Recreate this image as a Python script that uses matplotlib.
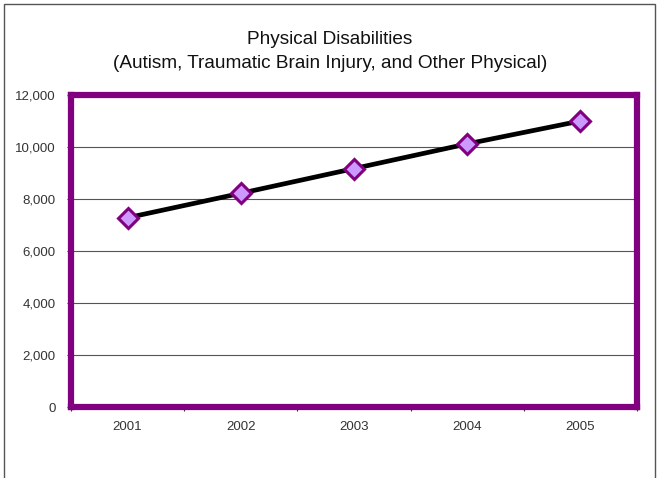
import matplotlib.pyplot as plt
from matplotlib.patches import Rectangle

# === Data ===
years = ["2001", "2002", "2003", "2004", "2005"]
counts = [7280, 8220, 9170, 10120, 11000]
y_ticks = [0, 2000, 4000, 6000, 8000, 10000, 12000]

plt.rcParams["font.family"] = ["Liberation Sans", "DejaVu Sans"]

fig = plt.figure(figsize=(6.6, 4.78), dpi=100)
ax = fig.add_axes([71 / 660, 1 - 407 / 478, 566 / 660, 312 / 478])

# outer chart frame (bottom edge runs past the image)
fig.patches.append(Rectangle((4 / 660, -0.05), 651 / 660, 1.05 - 4 / 478,
                             transform=fig.transFigure, fill=False,
                             edgecolor="#555555", lw=1.0))

xpos = list(range(1, len(years) + 1))
ax.plot(xpos, counts, color="black", lw=3.4, marker="D", ms=10,
        markerfacecolor="#cc99ff", markeredgecolor="#800080",
        markeredgewidth=2.2, zorder=3)

ax.set_xlim(0.5, len(years) + 0.5)
ax.set_ylim(0, 12000)
ax.set_yticks(y_ticks)
ax.set_yticklabels([f"{v:,}" for v in y_ticks])
ax.yaxis.grid(True, color="#555555", lw=0.8)
ax.set_axisbelow(True)

# Excel-style category ticks between groups
ax.set_xticks([i + 0.5 for i in range(len(years) + 1)])
ax.set_xticklabels([])
ax.set_xticks(xpos, minor=True)
ax.set_xticklabels(years, minor=True)
ax.tick_params(axis="x", which="minor", length=0, pad=10)
ax.tick_params(axis="both", which="major", length=3, direction="out",
               color="#333333", labelsize=9.5, labelcolor="#333333", pad=8)
ax.tick_params(axis="x", which="minor", labelsize=9.5, labelcolor="#333333")

for s in ax.spines.values():
    s.set_color("#800080")
    s.set_linewidth(4.5)

fig.text(0.5, 1 - 40 / 478, "Physical Disabilities", ha="center",
         va="center", fontsize=13.7, color="#111111")
fig.text(0.5, 1 - 63 / 478,
         "(Autism, Traumatic Brain Injury, and Other Physical)",
         ha="center", va="center", fontsize=13.7, color="#111111")

fig.savefig("out.png", dpi=100)
